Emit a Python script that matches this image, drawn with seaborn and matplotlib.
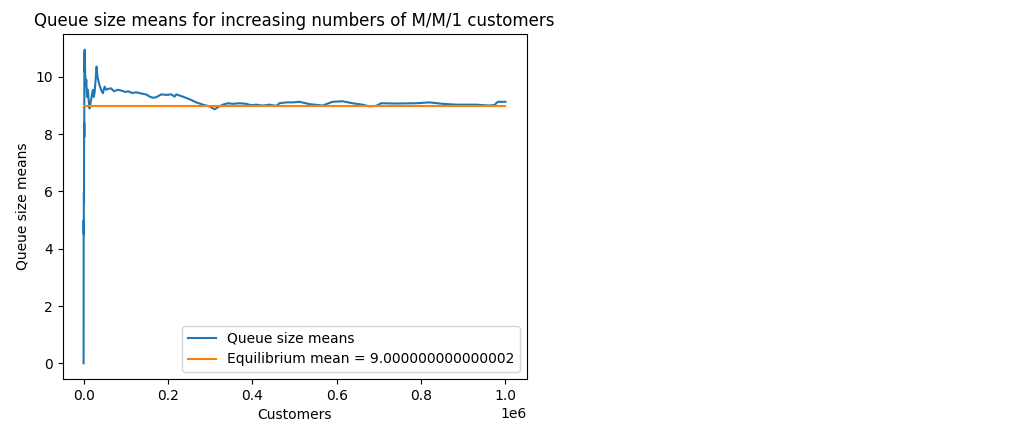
import numpy as np
import pandas as pd
import seaborn as sns
from matplotlib import pyplot as plt

# running means of queue size
customers = [0, 150, 300, 450, 600, 800, 1000, 1200, 1400, 1600, 1800, 2000, 2300, 2600,
             3000, 4000, 5000, 6400, 8000, 10200, 12000, 14000, 16600, 19000, 22000,
             24000, 26000, 28500, 30800, 33000, 35500, 38000, 40300, 43000, 45800,
             49800, 54000, 57700, 65000, 72000, 81300, 90000, 100000, 105000, 115000,
             125000, 136700, 150000, 156400, 165000, 172300, 184200, 196000, 207800,
             215700, 219700, 235300, 251200, 267100, 282700, 298600, 310500, 318300,
             330100, 342000, 353800, 369700, 385600, 397400, 409300, 424900, 440800,
             456700, 464500, 480400, 496000, 511900, 535600, 566400, 590100, 613800,
             637500, 661200, 677800, 693700, 705500, 741100, 788500, 820000, 850800,
             883300, 930700, 962200, 974000, 982000, 1000000]
queue_means = [0.0, 4.3, 5.0, 4.5, 5.7, 6.0, 5.6, 7.6, 8.4, 7.9, 10.5, 10.85, 10.2, 10.95,
               10.6, 10.0, 9.7, 9.9, 9.3, 9.55, 9.2, 8.9, 9.1, 9.3, 9.55,
               9.3, 9.44, 9.9, 10.36, 10.0, 9.84, 9.7, 9.6, 9.5, 9.43,
               9.66, 9.55, 9.58, 9.6, 9.5, 9.55, 9.52, 9.47, 9.5, 9.44,
               9.46, 9.42, 9.38, 9.31, 9.27, 9.29, 9.39, 9.37, 9.39,
               9.31, 9.39, 9.31, 9.22, 9.11, 9.03, 8.97, 8.87, 8.94,
               9.03, 9.08, 9.06, 9.08, 9.06, 9.01, 9.03, 9.0, 9.03,
               8.99, 9.08, 9.11, 9.11, 9.13, 9.05, 9.0, 9.13, 9.15,
               9.08, 9.03, 8.97, 8.99, 9.08, 9.07, 9.08, 9.11, 9.06,
               9.03, 9.03, 9.0, 9.02, 9.13, 9.13]

eq_mean = 9.000000000000002
eq_x = [0, 1000000]
eq_y = [eq_mean, eq_mean]

df = pd.DataFrame({"Customers": customers, "Queue size means": queue_means})

fig = plt.figure(figsize=(10.24, 4.29), dpi=100)
ax = fig.add_axes([62.5 / 1024, 50 / 429, 464 / 1024, 345 / 429])

sns.lineplot(x="Customers", y="Queue size means", data=df, ax=ax,
             label="Queue size means", color="#1f77b4", sort=False)
sns.lineplot(x=eq_x, y=eq_y, ax=ax, color="#ff7f0e",
             label="Equilibrium mean = " + str(eq_mean))

ax.set_title("Queue size means for increasing numbers of M/M/1 customers")
ax.set_xlabel("Customers")
ax.set_ylabel("Queue size means")
ax.legend(loc="lower right")

plt.savefig("out.png")
